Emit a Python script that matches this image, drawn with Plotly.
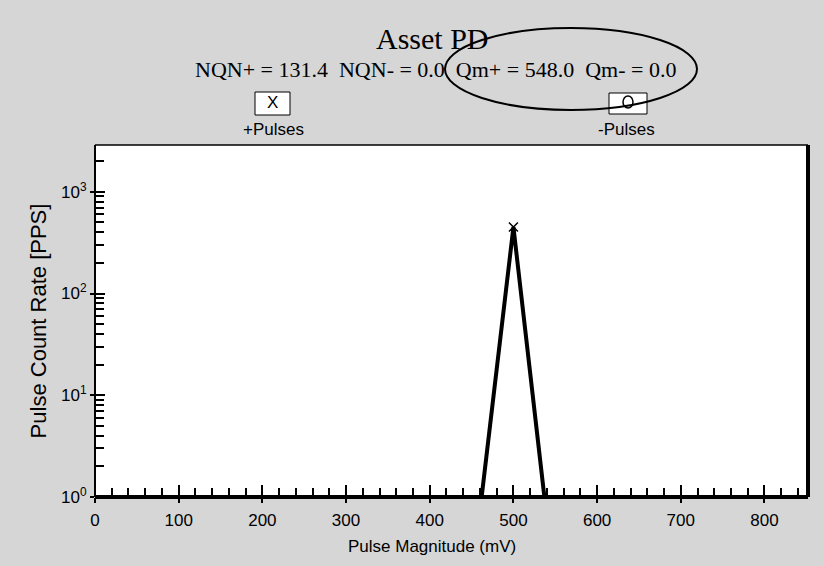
import math
import plotly.graph_objects as go

# ---- data ----
pulse_mv = [462, 500, 537]          # Pulse Magnitude (mV)
count_pps = [1, 450, 1]             # Pulse Count Rate (PPS)
x_ticks = [0, 100, 200, 300, 400, 500, 600, 700, 800]
y_decades = [1, 10, 100, 1000]
y_ticktext = [f"10<sup>{int(round(math.log10(v)))}</sup>" for v in y_decades]
title_text = "Asset PD"
info_text = "NQN+ = 131.4\u00a0\u00a0NQN- = 0.0\u00a0\u00a0Qm+ = 548.0\u00a0\u00a0Qm- = 0.0"
x_title = "Pulse Magnitude (mV)"
y_title = "Pulse Count Rate [PPS]"
x_range = [0, 852]
y_range_log = [0, 3.46]

# ---- plot area geometry (pixels) ----
W, H = 824, 566
L, R, T, B = 95, 808, 145, 497


def xp(px):
    return (px - L) / (R - L)


def yp(py):
    return (B - py) / (B - T)


sans = "Liberation Sans, Arial, sans-serif"
serif = "Liberation Serif, Times New Roman, serif"

fig = go.Figure()
fig.add_trace(go.Scatter(
    x=pulse_mv, y=count_pps, mode="lines",
    line=dict(color="black", width=4), showlegend=False, cliponaxis=True,
))
peak_i = count_pps.index(max(count_pps))
fig.add_trace(go.Scatter(
    x=[pulse_mv[peak_i]], y=[count_pps[peak_i]], mode="markers",
    marker=dict(symbol="x-thin-open", size=9, color="black",
                line=dict(color="black", width=1.5)),
    showlegend=False, cliponaxis=False,
))
# invisible trace to activate overlay axes (inside major ticks)
fig.add_trace(go.Scatter(x=[pulse_mv[0]], y=[count_pps[0]], xaxis="x2", yaxis="y2",
                         mode="markers", marker=dict(opacity=0), showlegend=False,
                         hoverinfo="skip"))

tickfont = dict(family=sans, size=17, color="black")

fig.update_layout(
    width=W, height=H,
    margin=dict(l=L, r=W - R, t=T, b=H - B),
    paper_bgcolor="#d6d6d6",
    plot_bgcolor="white",
    showlegend=False,
    xaxis=dict(
        range=x_range, tickvals=x_ticks, ticks="outside", ticklen=5, tickwidth=1.5,
        tickcolor="black", tickfont=tickfont, showgrid=False, zeroline=False,
        showline=False, ticklabelstandoff=3,
        minor=dict(dtick=20, ticks="inside", ticklen=9, tickwidth=1.5,
                   tickcolor="black", showgrid=False),
    ),
    yaxis=dict(
        type="log", range=y_range_log, tickvals=y_decades, ticktext=y_ticktext,
        ticks="outside", ticklen=4, tickwidth=1.5, tickcolor="black",
        tickfont=tickfont, showgrid=False, zeroline=False, showline=False,
        title=dict(text=y_title, standoff=8, font=dict(family=sans, size=22, color="black")),
        minor=dict(dtick="D1", ticks="inside", ticklen=9, tickwidth=1.5,
                   tickcolor="black", showgrid=False),
    ),
    xaxis2=dict(range=x_range, overlaying="x", tickvals=x_ticks, ticks="inside",
                ticklen=12, tickwidth=1.5, tickcolor="black", showticklabels=False,
                showgrid=False, zeroline=False, showline=False),
    yaxis2=dict(type="log", range=y_range_log, overlaying="y", tickvals=y_decades,
                ticks="inside", ticklen=10, tickwidth=1.5, tickcolor="black",
                showticklabels=False, showgrid=False, zeroline=False, showline=False),
)

shapes = [
    # frame
    dict(type="line", xref="paper", yref="paper", x0=0, x1=0, y0=0, y1=1,
         line=dict(color="black", width=2)),
    dict(type="line", xref="paper", yref="paper", x0=0, x1=1, y0=1, y1=1,
         line=dict(color="black", width=1.5)),
    dict(type="line", xref="paper", yref="paper", x0=1, x1=1, y0=0, y1=1,
         line=dict(color="black", width=4)),
    dict(type="line", xref="paper", yref="paper", x0=0, x1=1, y0=0, y1=0,
         line=dict(color="black", width=4)),
    # legend boxes
    dict(type="rect", xref="paper", yref="paper", x0=xp(255), x1=xp(290),
         y0=yp(115), y1=yp(92), fillcolor="white", line=dict(color="black", width=1)),
    dict(type="rect", xref="paper", yref="paper", x0=xp(609), x1=xp(647),
         y0=yp(114), y1=yp(93), fillcolor="white", line=dict(color="black", width=1)),
    dict(type="circle", xref="paper", yref="paper", x0=xp(623), x1=xp(633),
         y0=yp(108), y1=yp(96), line=dict(color="black", width=1.5)),
    # hand-drawn ellipse around Qm values
    dict(type="circle", xref="paper", yref="paper", x0=xp(445), x1=xp(697),
         y0=yp(110), y1=yp(28), line=dict(color="black", width=2)),
]
fig.update_layout(shapes=shapes)

ann = [
    dict(text=title_text, x=xp(432), y=yp(38), font=dict(family=serif, size=30, color="black")),
    dict(text=info_text, x=xp(435), y=yp(70), font=dict(family=serif, size=22, color="black")),
    dict(text="X", x=xp(272), y=yp(103), font=dict(family=sans, size=17, color="black")),
    dict(text="+Pulses", x=xp(273), y=yp(130), font=dict(family=sans, size=17, color="black")),
    dict(text="-Pulses", x=xp(626), y=yp(130), font=dict(family=sans, size=17, color="black")),
    dict(text=x_title, x=xp(432), y=yp(546), font=dict(family=sans, size=17, color="black")),
]
for a in ann:
    a.update(xref="paper", yref="paper", xanchor="center", yanchor="middle",
             showarrow=False)
fig.update_layout(annotations=ann)

fig.write_html("out.html", config={"displayModeBar": False},
               post_script="document.body.style.margin='0';")
